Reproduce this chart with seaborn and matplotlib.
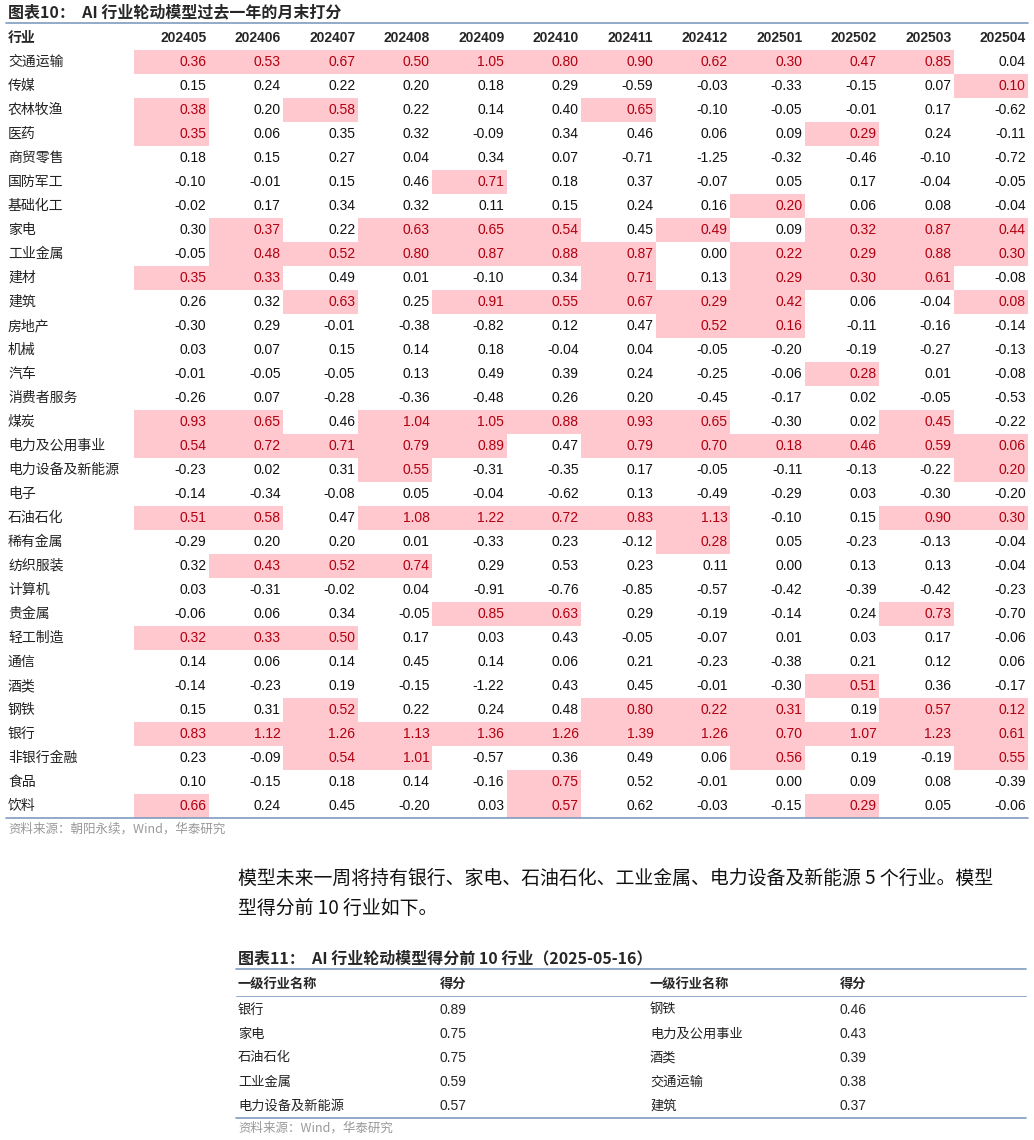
import numpy as np
import pandas as pd
import matplotlib
matplotlib.use("Agg")
import matplotlib.pyplot as plt
from matplotlib.colors import ListedColormap
import seaborn as sns

sns.set_theme(style="white")
plt.rcParams['font.family'] = ['Noto Sans CJK SC', 'DejaVu Sans']

months = ["202405","202406","202407","202408","202409","202410","202411","202412","202501","202502","202503","202504"]
industries = ["交通运输","传媒","农林牧渔","医药","商贸零售","国防军工","基础化工","家电","工业金属","建材","建筑","房地产","机械","汽车","消费者服务","煤炭","电力及公用事业","电力设备及新能源","电子","石油石化","稀有金属","纺织服装","计算机","贵金属","轻工制造","通信","酒类","钢铁","银行","非银行金融","食品","饮料"]
scores = [
[0.36,0.53,0.67,0.50,1.05,0.80,0.90,0.62,0.30,0.47,0.85,0.04],
[0.15,0.24,0.22,0.20,0.18,0.29,-0.59,-0.03,-0.33,-0.15,0.07,0.10],
[0.38,0.20,0.58,0.22,0.14,0.40,0.65,-0.10,-0.05,-0.01,0.17,-0.62],
[0.35,0.06,0.35,0.32,-0.09,0.34,0.46,0.06,0.09,0.29,0.24,-0.11],
[0.18,0.15,0.27,0.04,0.34,0.07,-0.71,-1.25,-0.32,-0.46,-0.10,-0.72],
[-0.10,-0.01,0.15,0.46,0.71,0.18,0.37,-0.07,0.05,0.17,-0.04,-0.05],
[-0.02,0.17,0.34,0.32,0.11,0.15,0.24,0.16,0.20,0.06,0.08,-0.04],
[0.30,0.37,0.22,0.63,0.65,0.54,0.45,0.49,0.09,0.32,0.87,0.44],
[-0.05,0.48,0.52,0.80,0.87,0.88,0.87,0.00,0.22,0.29,0.88,0.30],
[0.35,0.33,0.49,0.01,-0.10,0.34,0.71,0.13,0.29,0.30,0.61,-0.08],
[0.26,0.32,0.63,0.25,0.91,0.55,0.67,0.29,0.42,0.06,-0.04,0.08],
[-0.30,0.29,-0.01,-0.38,-0.82,0.12,0.47,0.52,0.16,-0.11,-0.16,-0.14],
[0.03,0.07,0.15,0.14,0.18,-0.04,0.04,-0.05,-0.20,-0.19,-0.27,-0.13],
[-0.01,-0.05,-0.05,0.13,0.49,0.39,0.24,-0.25,-0.06,0.28,0.01,-0.08],
[-0.26,0.07,-0.28,-0.36,-0.48,0.26,0.20,-0.45,-0.17,0.02,-0.05,-0.53],
[0.93,0.65,0.46,1.04,1.05,0.88,0.93,0.65,-0.30,0.02,0.45,-0.22],
[0.54,0.72,0.71,0.79,0.89,0.47,0.79,0.70,0.18,0.46,0.59,0.06],
[-0.23,0.02,0.31,0.55,-0.31,-0.35,0.17,-0.05,-0.11,-0.13,-0.22,0.20],
[-0.14,-0.34,-0.08,0.05,-0.04,-0.62,0.13,-0.49,-0.29,0.03,-0.30,-0.20],
[0.51,0.58,0.47,1.08,1.22,0.72,0.83,1.13,-0.10,0.15,0.90,0.30],
[-0.29,0.20,0.20,0.01,-0.33,0.23,-0.12,0.28,0.05,-0.23,-0.13,-0.04],
[0.32,0.43,0.52,0.74,0.29,0.53,0.23,0.11,0.00,0.13,0.13,-0.04],
[0.03,-0.31,-0.02,0.04,-0.91,-0.76,-0.85,-0.57,-0.42,-0.39,-0.42,-0.23],
[-0.06,0.06,0.34,-0.05,0.85,0.63,0.29,-0.19,-0.14,0.24,0.73,-0.70],
[0.32,0.33,0.50,0.17,0.03,0.43,-0.05,-0.07,0.01,0.03,0.17,-0.06],
[0.14,0.06,0.14,0.45,0.14,0.06,0.21,-0.23,-0.38,0.21,0.12,0.06],
[-0.14,-0.23,0.19,-0.15,-1.22,0.43,0.45,-0.01,-0.30,0.51,0.36,-0.17],
[0.15,0.31,0.52,0.22,0.24,0.48,0.80,0.22,0.31,0.19,0.57,0.12],
[0.83,1.12,1.26,1.13,1.36,1.26,1.39,1.26,0.70,1.07,1.23,0.61],
[0.23,-0.09,0.54,1.01,-0.57,0.36,0.49,0.06,0.56,0.19,-0.19,0.55],
[0.10,-0.15,0.18,0.14,-0.16,0.75,0.52,-0.01,0.00,0.09,0.08,-0.39],
[0.66,0.24,0.45,-0.20,0.03,0.57,0.62,-0.03,-0.15,0.29,0.05,-0.06],
]
# highlighted (top-10 per month) column indices for each row
highlight = [
[0,1,2,3,4,5,6,7,8,9,10],[11],[0,2,6],[0,9],[],[4],[8],[1,3,4,5,7,9,10,11],
[1,2,3,4,5,6,8,9,10,11],[0,1,6,8,9,10],[2,4,5,6,7,8,11],[7,8],[],[9],[],
[0,1,3,4,5,6,7,10],[0,1,2,3,4,6,7,8,9,10,11],[3,11],[],[0,1,3,4,5,6,7,10,11],
[7],[1,2,3],[],[4,5,10],[0,1,2],[],[9],[2,6,7,8,10,11],
[0,1,2,3,4,5,6,7,8,9,10,11],[2,3,8,11],[5],[0,5,9],
]
top_left_names = ["银行","家电","石油石化","工业金属","电力设备及新能源"]
top_left_scores = [0.89,0.75,0.75,0.59,0.57]
top_right_names = ["钢铁","电力及公用事业","酒类","交通运输","建筑"]
top_right_scores = [0.46,0.43,0.39,0.38,0.37]

W, H = 1034, 1140
fig = plt.figure(figsize=(W/100, H/100), dpi=100)
def fx(x): return x / W
def fy(y): return 1 - y / H

df = pd.DataFrame(scores, index=industries, columns=months)
mask = np.zeros(df.shape)
for r, cols in enumerate(highlight):
    for c in cols:
        mask[r, c] = 1
mdf = pd.DataFrame(mask, index=industries, columns=months)

x0, x1, y0, y1 = 134, 1028, 50, 818
ax = fig.add_axes([fx(x0), fy(y1), fx(x1) - fx(x0), fy(y0) - fy(y1)])
sns.heatmap(mdf, ax=ax, cmap=ListedColormap(["white", "#FFC7CE"]), vmin=0, vmax=1,
            cbar=False, linewidths=0, xticklabels=False, yticklabels=False)
for r in range(len(industries)):
    for c in range(len(months)):
        col = "#B00010" if mask[r, c] else "#111111"
        ax.text(c + 0.97, r + 0.52, f"{df.iat[r, c]:.2f}", ha="right", va="center",
                fontsize=10, color=col, family=["Liberation Sans", "DejaVu Sans"])
ax.set_axis_off()

# row labels & header
for r, name in enumerate(industries):
    fig.text(fx(8), fy(62 + 24 * r), name, fontsize=10, va="center", ha="left", color="#222222")
fig.text(fx(8), fy(38), "行业", fontsize=10, va="center", fontweight="bold")
for c, m in enumerate(months):
    fig.text(fx(134 + 74.5 * (c + 1) - 2), fy(38), m, fontsize=10, ha="right", va="center",
             fontweight="bold", family=["Liberation Sans", "DejaVu Sans"])

fig.text(fx(8), fy(12), "图表10：  AI 行业轮动模型过去一年的月末打分", fontsize=11.5,
         fontweight="bold", va="center")
line_kw = dict(transform=fig.transFigure)
fig.add_artist(plt.Line2D([fx(6), fx(1028)], [fy(23), fy(23)], color="#7F9CC0", lw=1.2, **line_kw))
fig.add_artist(plt.Line2D([fx(6), fx(1028)], [fy(818), fy(818)], color="#7F9CC0", lw=1.2, **line_kw))
fig.text(fx(8), fy(829), "资料来源：朝阳永续，Wind，华泰研究", fontsize=9, color="#999999", va="center")

fig.text(fx(238), fy(878), "模型未来一周将持有银行、家电、石油石化、工业金属、电力设备及新能源 5 个行业。模型",
         fontsize=13.6, va="center", color="#111111")
fig.text(fx(238), fy(908), "型得分前 10 行业如下。", fontsize=13.6, va="center", color="#111111")

fig.text(fx(238), fy(958), "图表11：  AI 行业轮动模型得分前 10 行业（2025-05-16）", fontsize=11.5,
         fontweight="bold", va="center")
fig.add_artist(plt.Line2D([fx(236), fx(1026)], [fy(969), fy(969)], color="#7F9CC0", lw=1.2, **line_kw))
fig.add_artist(plt.Line2D([fx(236), fx(1026)], [fy(996), fy(996)], color="#7F9CC0", lw=0.6, **line_kw))
fig.add_artist(plt.Line2D([fx(236), fx(1026)], [fy(1118), fy(1118)], color="#7F9CC0", lw=1.2, **line_kw))
for xx, t in [(238, "一级行业名称"), (440, "得分"), (650, "一级行业名称"), (840, "得分")]:
    fig.text(fx(xx), fy(984), t, fontsize=9.5, fontweight="bold", va="center")
for i in range(5):
    yy = fy(1010 + 24 * i)
    fig.text(fx(238), yy, top_left_names[i], fontsize=9.5, va="center", color="#222222")
    fig.text(fx(440), yy, f"{top_left_scores[i]:.2f}", fontsize=10, va="center",
             family=["Liberation Sans", "DejaVu Sans"])
    fig.text(fx(650), yy, top_right_names[i], fontsize=9.5, va="center", color="#222222")
    fig.text(fx(840), yy, f"{top_right_scores[i]:.2f}", fontsize=10, va="center",
             family=["Liberation Sans", "DejaVu Sans"])
fig.text(fx(238), fy(1128), "资料来源：Wind，华泰研究", fontsize=9, color="#999999", va="center")

fig.savefig("out.png", dpi=100)
